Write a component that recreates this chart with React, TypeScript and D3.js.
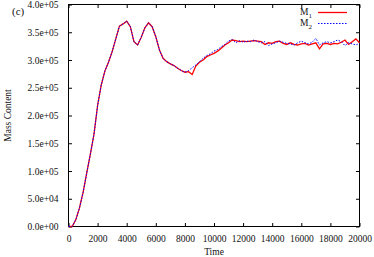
import { useRef, useEffect } from 'react'
import * as d3 from 'd3'

const TIME = [
  0, 250, 500, 750, 1000, 1250, 1500, 1750, 2000, 2250, 2500, 2750, 3000, 3250, 3500, 3750,
  4000, 4250, 4500, 4750, 5000, 5250, 5500, 5750, 6000, 6250, 6500, 6750, 7000, 7250, 7500, 7750,
  8000, 8250, 8500, 8750, 9000, 9250, 9500, 9750, 10000, 10250, 10500, 10750, 11000, 11250, 11500, 11750,
  12000, 12250, 12500, 12750, 13000, 13250, 13500, 13750, 14000, 14250, 14500, 14750, 15000, 15250, 15500, 15750,
  16000, 16250, 16500, 16750, 17000, 17250, 17500, 17750, 18000, 18250, 18500, 18750, 19000, 19250, 19500, 19750,
  20000,
]

// values in thousands
const M1 = [
  0, 0, 12, 33, 61, 96, 130, 166, 218, 255, 280, 296, 315, 338, 361, 365,
  370, 360, 333, 327, 341, 358, 367, 360, 342, 318, 303, 297, 293, 290, 285, 281,
  278, 279, 274, 289, 296, 300, 306, 309, 312, 316, 321, 327, 331, 336, 335, 333,
  334, 333, 334, 335, 334, 333, 328, 331, 330, 333, 334, 330, 328, 331, 328, 327,
  329, 330, 327, 329, 331, 320, 329, 330, 328, 330, 329, 332, 336, 328, 333, 338,
  331,
]

const M2 = [
  0, 0, 12, 33, 61, 96, 130, 166, 218, 255, 280, 296, 315, 338, 361, 365,
  370, 360, 333, 327, 341, 358, 367, 360, 342, 318, 303, 297, 293, 290, 285, 281,
  278, 281, 286, 291, 297, 303, 308, 311, 316, 319, 324, 328, 334, 337, 331, 335,
  332, 334, 333, 336, 333, 331, 333, 326, 329, 331, 334, 332, 330, 329, 327, 331,
  334, 331, 329, 332, 339, 327, 331, 333, 331, 333, 336, 333, 326, 331, 329, 327,
  330,
]

const X_TICKS = [0, 2000, 4000, 6000, 8000, 10000, 12000, 14000, 16000, 18000, 20000]
const Y_TICKS = [0, 50000, 100000, 150000, 200000, 250000, 300000, 350000, 400000]

const FONT = "'Liberation Serif', 'Times New Roman', serif"

const sci = (v: number) => {
  const [m, e] = v.toExponential(1).split('e')
  const sign = e[0] === '-' ? '-' : '+'
  const digits = e.replace(/[+-]/, '').padStart(2, '0')
  return `${m}e${sign}${digits}`
}

export default function App() {
  const svgRef = useRef<SVGSVGElement>(null)
  const width = 374
  const height = 257

  useEffect(() => {
    if (!svgRef.current) return
    const svg = d3.select(svgRef.current)
    svg.selectAll('*').remove()

    const left = 68.5
    const right = 359.5
    const top = 4.5
    const bottom = 226.5

    const x = d3.scaleLinear().domain([0, 20000]).range([left, right])
    const y = d3.scaleLinear().domain([0, 400000]).range([bottom, top])

    // axes, ticks point inward on all four sides
    const styleAxis = (g: any) => {
      g.select('.domain').remove()
      g.selectAll('line').attr('stroke', '#000').attr('stroke-width', 1)
      g.selectAll('text').attr('fill', '#111').style('font-family', FONT).style('font-size', '9.5px')
    }

    svg.append('g')
      .attr('transform', `translate(0,${bottom})`)
      .call(d3.axisBottom(x).tickValues(X_TICKS).tickSizeInner(-3.5).tickSizeOuter(0).tickPadding(9).tickFormat(d3.format('d')))
      .call(styleAxis)

    svg.append('g')
      .attr('transform', `translate(0,${top})`)
      .call(d3.axisTop(x).tickValues(X_TICKS).tickSizeInner(-3.5).tickSizeOuter(0).tickFormat(() => ''))
      .call(styleAxis)

    svg.append('g')
      .attr('transform', `translate(${left},0)`)
      .call(d3.axisLeft(y).tickValues(Y_TICKS).tickSizeInner(-3.5).tickSizeOuter(0).tickPadding(10).tickFormat((d) => sci(+d)))
      .call(styleAxis)

    svg.append('g')
      .attr('transform', `translate(${right},0)`)
      .call(d3.axisRight(y).tickValues(Y_TICKS).tickSizeInner(-3.5).tickSizeOuter(0).tickFormat(() => ''))
      .call(styleAxis)

    // frame
    svg.append('rect')
      .attr('x', left).attr('y', top)
      .attr('width', right - left).attr('height', bottom - top)
      .attr('fill', 'none').attr('stroke', '#000').attr('stroke-width', 1)

    const line = d3.line<number>()
      .x((_, i) => x(TIME[i]))
      .y((d) => y(d * 1000))

    svg.append('path').datum(M1)
      .attr('d', line).attr('fill', 'none')
      .attr('stroke', '#ff0000').attr('stroke-width', 1.3)

    svg.append('path').datum(M2)
      .attr('d', line).attr('fill', 'none')
      .attr('stroke', '#0000ff').attr('stroke-width', 1)
      .attr('stroke-dasharray', '1.5,1.5')

    // legend
    const leg = svg.append('g').style('font-family', FONT).style('font-size', '9.5px').attr('fill', '#111')
    const items = [
      { sub: '1', color: '#ff0000', dash: null, w: 1.3, yy: 12.5 },
      { sub: '2', color: '#0000ff', dash: '1.5,1.5', w: 1, yy: 23.5 },
    ]
    items.forEach((it) => {
      const t = leg.append('text').attr('x', 312).attr('y', it.yy + 2.8).attr('text-anchor', 'end')
      t.append('tspan').text('M')
      t.append('tspan').attr('dy', 2.5).style('font-size', '7px').text(it.sub)
      leg.append('line')
        .attr('x1', 318).attr('x2', 347).attr('y1', it.yy).attr('y2', it.yy)
        .attr('stroke', it.color).attr('stroke-width', it.w)
        .attr('stroke-dasharray', it.dash)
    })

    // labels
    svg.append('text')
      .attr('x', (left + right) / 2).attr('y', 255)
      .attr('text-anchor', 'middle').attr('fill', '#111')
      .style('font-family', FONT).style('font-size', '9.5px')
      .text('Time')

    svg.append('text')
      .attr('transform', `translate(11,${(top + bottom) / 2}) rotate(-90)`)
      .attr('text-anchor', 'middle').attr('fill', '#111')
      .style('font-family', FONT).style('font-size', '9.5px')
      .text('Mass Content')

    svg.append('text')
      .attr('x', 12).attr('y', 15)
      .attr('fill', '#111')
      .style('font-family', FONT).style('font-size', '11px')
      .text('(c)')
  }, [])

  return (
    <svg
      ref={svgRef}
      width={width}
      height={height}
      style={{ position: 'absolute', left: 0, top: 0, background: '#fff' }}
    />
  )
}
